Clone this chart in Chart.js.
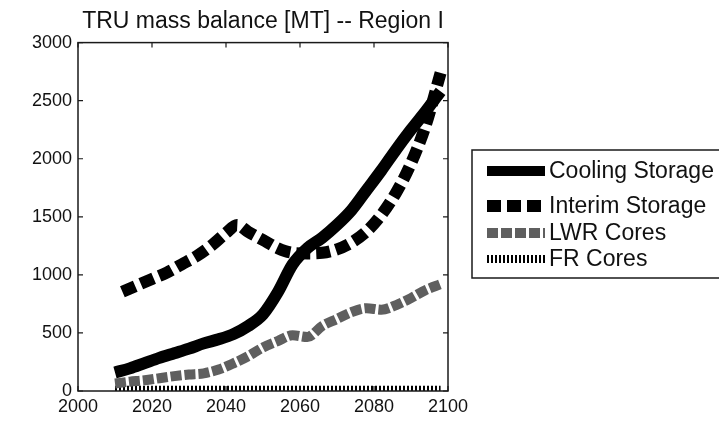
<!DOCTYPE html>
<html>
<head>
<meta charset="utf-8">
<script src="https://cdn.jsdelivr.net/npm/chart.js@4"></script>
<style>
html,body{margin:0;padding:0;background:#fff;overflow:hidden;}
#wrap{width:719px;height:424px;position:relative;}
</style>
</head>
<body>
<div id="wrap"><canvas id="c" width="719" height="424"></canvas></div>
<script>
// ---- data ----
const chartTitle = 'TRU mass balance [MT] -- Region I';
const seriesLabels = ['Cooling Storage', 'Interim Storage', 'LWR Cores', 'FR Cores'];
const xTickValues = [2000, 2020, 2040, 2060, 2080, 2100];
const yTickValues = [0, 500, 1000, 1500, 2000, 2500, 3000];

const years = [2010, 2014, 2018, 2022, 2026, 2030, 2034, 2038, 2042, 2046, 2050, 2054,
               2058, 2062, 2066, 2070, 2074, 2078, 2082, 2086, 2090, 2094, 2098];
const coolingStorage = [160, 195, 240, 285, 325, 365, 410, 445, 490, 560, 660, 850,
                        1090, 1230, 1320, 1430, 1560, 1730, 1900, 2080, 2250, 2410, 2580];

const interimYears = [2012, 2016, 2020, 2024, 2028, 2032, 2036, 2040, 2043, 2046, 2050, 2054,
                      2058, 2062, 2066, 2070, 2074, 2078, 2082, 2086, 2090, 2094, 2098];
const interimStorage = [855, 910, 965, 1020, 1090, 1160, 1250, 1360, 1430, 1370, 1300, 1230,
                        1190, 1185, 1190, 1220, 1280, 1374, 1517, 1710, 1960, 2290, 2740];

const lwrCores = [65, 80, 92, 110, 128, 142, 152, 185, 238, 300, 375, 430,
                  480, 465, 560, 620, 680, 713, 700, 740, 800, 870, 920];
const frCores = [20, 20, 20, 20, 20, 20, 20, 20, 20, 20, 20, 20,
                 20, 20, 20, 20, 20, 20, 20, 20, 20, 20, 20];

// ---- helpers ----
const toPoints = (xs, ys) => xs.map((x, i) => ({ x: x, y: ys[i] }));
const FONT = "'Liberation Sans', Arial, Helvetica, sans-serif";

const frameTicks = {
  id: 'frameTicks',
  afterDraw(chart) {
    const { ctx, chartArea: a, scales } = chart;
    ctx.save();
    ctx.strokeStyle = '#1a1a1a';
    ctx.lineWidth = 1.5;
    ctx.setLineDash([]);
    ctx.strokeRect(a.left, a.top, a.right - a.left, a.bottom - a.top);
    const L = 5;
    ctx.lineWidth = 1.2;
    ctx.beginPath();
    scales.x.ticks.forEach(t => {
      const px = scales.x.getPixelForValue(t.value);
      ctx.moveTo(px, a.bottom); ctx.lineTo(px, a.bottom - L);
      ctx.moveTo(px, a.top); ctx.lineTo(px, a.top + L);
    });
    scales.y.ticks.forEach(t => {
      const py = scales.y.getPixelForValue(t.value);
      ctx.moveTo(a.left, py); ctx.lineTo(a.left + L, py);
      ctx.moveTo(a.right, py); ctx.lineTo(a.right - L, py);
    });
    ctx.stroke();
    ctx.restore();
  }
};

const boxLegend = {
  id: 'boxLegend',
  afterDraw(chart) {
    const { ctx } = chart;
    const rowsY = [171, 206, 233, 259];
    const bx = 472, by = 150, bb = 278, br = chart.width + 5;
    ctx.save();
    ctx.strokeStyle = '#1a1a1a';
    ctx.lineWidth = 1.5;
    ctx.setLineDash([]);
    ctx.beginPath();
    ctx.moveTo(br, by); ctx.lineTo(bx, by); ctx.lineTo(bx, bb); ctx.lineTo(br, bb);
    ctx.stroke();
    chart.data.datasets.forEach((ds, i) => {
      const y = rowsY[i];
      ctx.save();
      ctx.strokeStyle = ds.borderColor;
      ctx.lineWidth = ds.legendWidth || ds.borderWidth;
      ctx.lineCap = 'butt';
      ctx.setLineDash(ds.borderDash || []);
      ctx.beginPath();
      ctx.moveTo(487, y);
      ctx.lineTo(545, y);
      ctx.stroke();
      ctx.restore();
      ctx.fillStyle = '#111';
      ctx.font = '23px ' + FONT;
      ctx.textBaseline = 'middle';
      ctx.textAlign = 'left';
      ctx.fillText(ds.label, 549, y + 1);
    });
    ctx.restore();
  }
};

new Chart(document.getElementById('c'), {
  type: 'line',
  data: {
    datasets: [
      { label: seriesLabels[0], data: toPoints(years, coolingStorage),
        borderColor: '#000', borderWidth: 12, legendWidth: 10, borderCapStyle: 'butt', borderJoinStyle: 'round' },
      { label: seriesLabels[1], data: toPoints(interimYears, interimStorage),
        borderColor: '#000', borderWidth: 12, borderDash: [14, 6], borderCapStyle: 'butt' },
      { label: seriesLabels[2], data: toPoints(years, lwrCores),
        borderColor: '#5f5f5f', borderWidth: 10, borderDash: [11, 3], borderCapStyle: 'butt' },
      { label: seriesLabels[3], data: toPoints(years, frCores),
        borderColor: '#000', borderWidth: 6, legendWidth: 8, borderDash: [2, 2], borderCapStyle: 'butt' }
    ]
  },
  options: {
    responsive: false,
    animation: false,
    devicePixelRatio: 1,
    layout: { padding: { left: 0, right: 271, top: 0, bottom: 0 } },
    elements: {
      point: { radius: 0, hoverRadius: 0 },
      line: { tension: 0.35, cubicInterpolationMode: 'monotone', fill: false }
    },
    plugins: {
      legend: { display: false },
      tooltip: { enabled: false },
      title: {
        display: true,
        text: chartTitle,
        fullSize: false,
        color: '#111',
        font: { family: FONT, size: 23, weight: 'normal' },
        padding: { top: 8, bottom: 7 }
      }
    },
    scales: {
      x: {
        type: 'linear',
        min: 2000, max: 2100,
        afterBuildTicks: s => { s.ticks = xTickValues.map(v => ({ value: v })); },
        afterFit: s => { s.height = 33; },
        grid: { display: false, drawTicks: false },
        border: { display: false },
        ticks: {
          padding: 5, color: '#111',
          font: { family: FONT, size: 18 },
          maxRotation: 0, autoSkip: false,
          callback: v => String(v)
        }
      },
      y: {
        type: 'linear',
        min: 0, max: 3000,
        afterBuildTicks: s => { s.ticks = yTickValues.map(v => ({ value: v })); },
        afterFit: s => { s.width = 78; },
        grid: { display: false, drawTicks: false },
        border: { display: false },
        ticks: {
          padding: 6, color: '#111',
          font: { family: FONT, size: 18 },
          autoSkip: false,
          callback: v => String(v)
        }
      }
    }
  },
  plugins: [frameTicks, boxLegend]
});
</script>
</body>
</html>
